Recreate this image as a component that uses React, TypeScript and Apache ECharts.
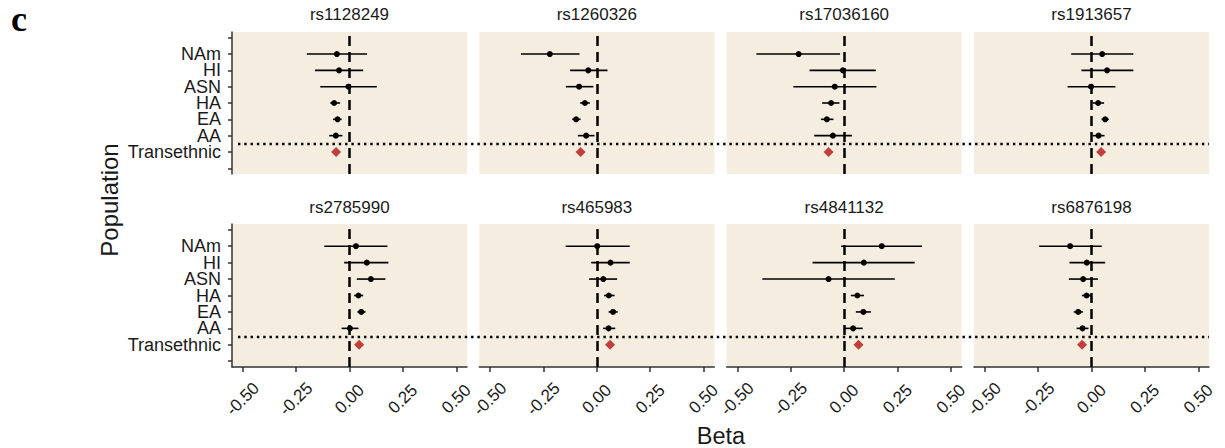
import React, { useEffect, useRef } from 'react';
import * as echarts from 'echarts';

// ---------- data ----------
const snps = ['rs1128249', 'rs1260326', 'rs17036160', 'rs1913657', 'rs2785990', 'rs465983', 'rs4841132', 'rs6876198'];
const populations = ['NAm', 'HI', 'ASN', 'HA', 'EA', 'AA'];
const popY = [7, 6, 5, 4, 3, 2];
const transY = 1;
const separatorY = 1.5;
const yTickValues = [0, 1, 2, 3, 4, 5, 6, 7, 8];
const yLabelValuesOdd = [1, 3, 5, 7];
const yLabelValuesEven = [2, 4, 6];
const yTickLabels = ['', 'Transethnic', 'AA', 'EA', 'HA', 'ASN', 'HI', 'NAm', ''];
const xTickValues = [-0.5, -0.25, 0, 0.25, 0.5];

// per SNP, order: NAm, HI, ASN, HA, EA, AA
const betas = [
  [-0.059, -0.049, -0.005, -0.072, -0.056, -0.064],
  [-0.22, -0.04, -0.083, -0.056, -0.097, -0.05],
  [-0.213, -0.006, -0.044, -0.061, -0.081, -0.053],
  [0.05, 0.073, -0.002, 0.031, 0.064, 0.033],
  [0.03, 0.081, 0.1, 0.042, 0.055, 0.002],
  [0.002, 0.064, 0.03, 0.056, 0.076, 0.055],
  [0.176, 0.092, -0.073, 0.062, 0.09, 0.042],
  [-0.1, -0.022, -0.039, -0.023, -0.062, -0.042],
];
const lowers = [
  [-0.2, -0.162, -0.137, -0.09, -0.077, -0.095],
  [-0.355, -0.125, -0.145, -0.078, -0.115, -0.089],
  [-0.411, -0.162, -0.238, -0.103, -0.109, -0.14],
  [-0.095, -0.047, -0.112, 0.005, 0.047, 0.005],
  [-0.118, -0.025, 0.034, 0.022, 0.037, -0.037],
  [-0.146, -0.026, -0.036, 0.034, 0.055, 0.03],
  [-0.014, -0.148, -0.383, 0.031, 0.055, 0.0],
  [-0.245, -0.103, -0.106, -0.045, -0.083, -0.07],
];
const uppers = [
  [0.082, 0.064, 0.128, -0.044, -0.037, -0.033],
  [-0.081, 0.05, -0.016, -0.033, -0.076, -0.011],
  [-0.019, 0.148, 0.151, -0.022, -0.05, 0.036],
  [0.196, 0.196, 0.112, 0.059, 0.081, 0.061],
  [0.178, 0.182, 0.168, 0.064, 0.075, 0.042],
  [0.154, 0.154, 0.095, 0.083, 0.098, 0.086],
  [0.364, 0.33, 0.237, 0.093, 0.125, 0.087],
  [0.048, 0.064, 0.03, 0.0, -0.04, -0.014],
];
const transBetas = [-0.063, -0.076, -0.073, 0.045, 0.045, 0.062, 0.067, -0.044];

// ---------- layout / style ----------
const FONT = 'Liberation Sans, Arial, Helvetica, sans-serif';
const PANEL_LEFT = 232;
const PANEL_PITCH = 247.33;
const PANEL_W = 235;
const ROW_TOP = [32, 224];
const ROW_H = [142, 143];
const BG = '#F5EDE0';
const AXIS_COLOR = '#333';
const TEXT_COLOR = '#1a1a1a';
const RED = '#C43E3C';
const Y_MIN = -0.35;
const Y_MAX = 8.35;

function yLabelStyle(values: number[]) {
  return {
    show: true, customValues: values, margin: 11, hideOverlap: false,
    showMinLabel: true, showMaxLabel: true, lineHeight: 14,
    formatter: (v: number) => yTickLabels[Math.round(v)], fontSize: 18, fontFamily: FONT, color: TEXT_COLOR,
  };
}

function buildOption() {
  const grid: any[] = [];
  const xAxis: any[] = [];
  const yAxis: any[] = [];
  const series: any[] = [];
  const graphic: any[] = [];
  const extraY: any[] = [];

  snps.forEach((snp, i) => {
    const col = i % 4;
    const row = Math.floor(i / 4);
    const left = PANEL_LEFT + col * PANEL_PITCH;
    grid.push({
      left, top: ROW_TOP[row], width: PANEL_W, height: ROW_H[row],
      show: true, backgroundColor: BG, borderWidth: 0, containLabel: false,
    });
    const bottomRow = row === 1;
    xAxis.push({
      gridIndex: i, type: 'value', min: -0.55, max: 0.55,
      axisLine: { show: bottomRow, onZero: false, lineStyle: { color: AXIS_COLOR, width: 1.5 } },
      axisTick: { show: bottomRow, customValues: xTickValues, length: 5, lineStyle: { color: AXIS_COLOR, width: 1.5 } },
      axisLabel: {
        show: bottomRow, customValues: xTickValues, rotate: 45, margin: 32,
        align: 'center', verticalAlign: 'middle', hideOverlap: false,
        showMinLabel: true, showMaxLabel: true,
        formatter: (v: number) => v.toFixed(2), fontSize: 17, fontFamily: FONT, color: TEXT_COLOR,
      },
      splitLine: { show: false },
    });
    const leftCol = col === 0;
    yAxis.push({
      gridIndex: i, type: 'value', min: Y_MIN, max: Y_MAX, position: 'left',
      axisLine: { show: leftCol, onZero: false, lineStyle: { color: AXIS_COLOR, width: 1.5 } },
      axisTick: { show: leftCol, customValues: yTickValues, length: 4, lineStyle: { color: AXIS_COLOR, width: 1.5 } },
      axisLabel: leftCol ? yLabelStyle(yLabelValuesOdd) : { show: false },
      splitLine: { show: false },
    });
    if (leftCol) {
      extraY.push({
        gridIndex: i, type: 'value', min: Y_MIN, max: Y_MAX, position: 'left', offset: 0,
        axisLine: { show: false, onZero: false },
        axisTick: { show: false },
        axisLabel: yLabelStyle(yLabelValuesEven),
        splitLine: { show: false },
      });
    }

    series.push({
      type: 'custom', xAxisIndex: i, yAxisIndex: i, z: 3,
      data: lowers[i].map((lo, k) => [lo, uppers[i][k], popY[k]]),
      encode: { x: [0, 1], y: 2 },
      renderItem: (params: any, api: any) => {
        const a = api.coord([api.value(0), api.value(2)]);
        const b = api.coord([api.value(1), api.value(2)]);
        return {
          type: 'line',
          shape: { x1: a[0], y1: a[1], x2: b[0], y2: b[1] },
          style: { stroke: '#000', lineWidth: 1.6 },
        };
      },
    });
    series.push({
      type: 'scatter', xAxisIndex: i, yAxisIndex: i, z: 4,
      name: populations.join(','),
      data: betas[i].map((b, k) => [b, popY[k]]),
      symbolSize: 6, itemStyle: { color: '#000', opacity: 1 },
      markLine: {
        silent: true, symbol: 'none', label: { show: false }, z: 5,
        lineStyle: { color: '#000', width: 2.5, type: [10, 6] },
        data: [{ xAxis: 0 }],
      },
    });
    series.push({
      type: 'scatter', xAxisIndex: i, yAxisIndex: i, z: 4,
      data: [[transBetas[i], transY]],
      symbol: 'diamond', symbolSize: 10, itemStyle: { color: RED, opacity: 1 },
    });

    graphic.push({
      type: 'text', x: left + PANEL_W / 2, y: row === 0 ? 14.8 : 207.4,
      style: { text: snp, fontSize: 17, fontFamily: FONT, fill: TEXT_COLOR, align: 'center', verticalAlign: 'middle' },
    });
  });

  // full-width separator grids (dotted line between AA and Transethnic)
  [0, 1].forEach((row) => {
    const gi = grid.length;
    grid.push({ left: PANEL_LEFT + 6, top: ROW_TOP[row], width: PANEL_PITCH * 3 + PANEL_W - 6, height: ROW_H[row], show: false });
    xAxis.push({ gridIndex: gi, type: 'value', min: 0, max: 1, show: false });
    yAxis.push({ gridIndex: gi, type: 'value', min: Y_MIN, max: Y_MAX, show: false });
    series.push({
      type: 'line', xAxisIndex: gi, yAxisIndex: gi, data: [], z: 2,
      markLine: {
        silent: true, symbol: 'none', label: { show: false },
        lineStyle: { color: '#000', width: 2.4, type: [2.4, 3.9] },
        data: [{ yAxis: separatorY }],
      },
    });
  });

  extraY.forEach((a) => yAxis.push(a));

  graphic.push({
    type: 'text', x: 11, y: 18.5,
    style: { text: 'c', fontSize: 36, fontWeight: 'bold', fontFamily: 'Liberation Serif, Times New Roman, serif', fill: '#000', align: 'left', verticalAlign: 'middle' },
  });
  graphic.push({
    type: 'text', x: 109, y: 200, rotation: Math.PI / 2,
    style: { text: 'Population', fontSize: 24, fontFamily: FONT, fill: TEXT_COLOR, align: 'center', verticalAlign: 'middle' },
  });
  graphic.push({
    type: 'text', x: 721, y: 436,
    style: { text: 'Beta', fontSize: 23.5, lineHeight: 22, fontFamily: FONT, fill: TEXT_COLOR, align: 'center', verticalAlign: 'middle' },
  });

  return { animation: false, backgroundColor: '#fff', grid, xAxis, yAxis, series, graphic };
}

export default function App() {
  const ref = useRef<HTMLDivElement>(null);
  useEffect(() => {
    if (!ref.current) return;
    const chart = echarts.init(ref.current, undefined, { renderer: 'svg' });
    chart.setOption(buildOption() as any);
    return () => chart.dispose();
  }, []);
  return <div ref={ref} style={{ position: 'absolute', left: 0, top: 0, width: 1225, height: 448 }} />;
}
